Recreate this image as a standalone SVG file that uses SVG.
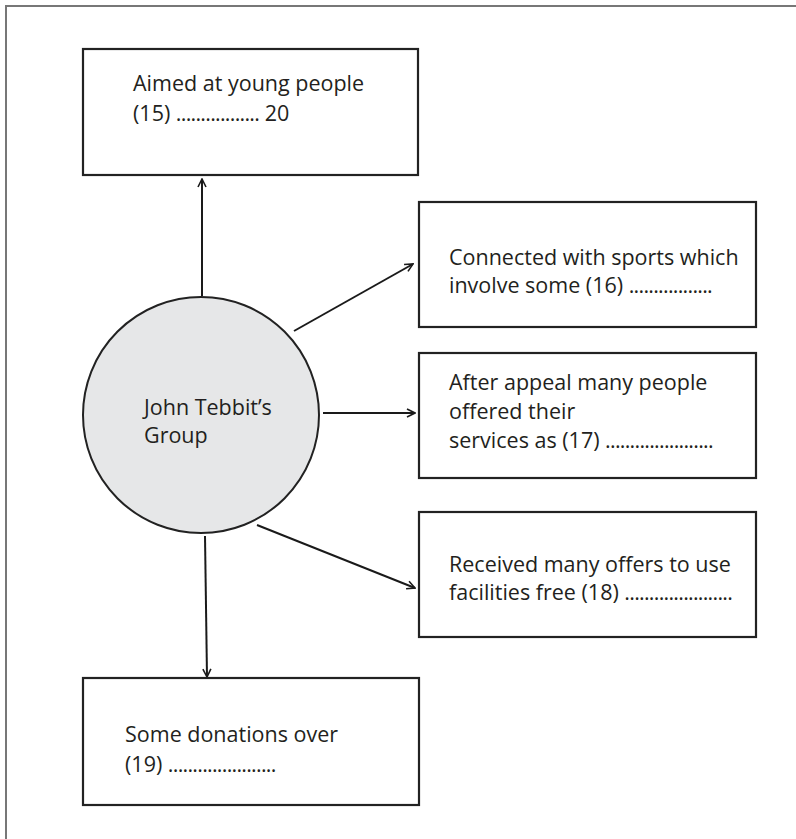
<svg xmlns="http://www.w3.org/2000/svg" width="796" height="839" viewBox="0 0 796 839">
<style>
.box{fill:#fff;stroke:#222;stroke-width:2.2}
.t{font-family:"Open Sans","Liberation Sans",sans-serif;font-size:21.5px;fill:#231f20}
.d{letter-spacing:-0.75px}
.c{stroke:#1a1a1a;stroke-width:2;fill:none;marker-end:url(#ah)}
</style>
<defs>
<marker id="ah" viewBox="0 0 10 10" refX="9" refY="5" markerWidth="5" markerHeight="5" orient="auto" markerUnits="strokeWidth">
<path d="M1,1 L9,5 L1,9" fill="none" stroke="#1a1a1a" stroke-width="1.6"/>
</marker>
</defs>
<rect width="796" height="839" fill="#fff"/>
<g id="frame" stroke="#777" stroke-width="2" fill="none">
<path d="M6,839 V6 H796"/>
</g>
<g id="connectors">
<line class="c" x1="202" y1="296" x2="202" y2="179"/>
<line class="c" x1="294" y1="331" x2="413" y2="264"/>
<line class="c" x1="323" y1="413" x2="415" y2="413"/>
<line class="c" x1="257" y1="525" x2="415" y2="588"/>
<line class="c" x1="205" y1="536" x2="207" y2="677"/>
</g>
<g id="center">
<circle cx="201" cy="415" r="118" fill="#e6e7e8" stroke="#222" stroke-width="2"/>
<text class="t" x="144" y="415">John Tebbit’s</text>
<text class="t" x="144" y="443">Group</text>
</g>
<g id="n15">
<rect class="box" x="83" y="49" width="335" height="126"/>
<text class="t" x="133" y="91">Aimed at young people</text>
<text class="t" x="133" y="121">(15) <tspan class="d">.................</tspan> 20</text>
</g>
<g id="n16">
<rect class="box" x="419" y="202" width="337" height="125"/>
<text class="t" x="449" y="265">Connected with sports which</text>
<text class="t" x="449" y="293">involve some (16) <tspan class="d">.................</tspan></text>
</g>
<g id="n17">
<rect class="box" x="419" y="353" width="337" height="125"/>
<text class="t" x="449" y="390">After appeal many people</text>
<text class="t" x="449" y="419">offered their</text>
<text class="t" x="449" y="448">services as (17) <tspan class="d">......................</tspan></text>
</g>
<g id="n18">
<rect class="box" x="419" y="512" width="337" height="125"/>
<text class="t" x="449" y="572">Received many offers to use</text>
<text class="t" x="449" y="600">facilities free (18) <tspan class="d">......................</tspan></text>
</g>
<g id="n19">
<rect class="box" x="83" y="678" width="336" height="127"/>
<text class="t" x="125" y="742">Some donations over</text>
<text class="t" x="125" y="772">(19) <tspan class="d">......................</tspan></text>
</g>
</svg>
